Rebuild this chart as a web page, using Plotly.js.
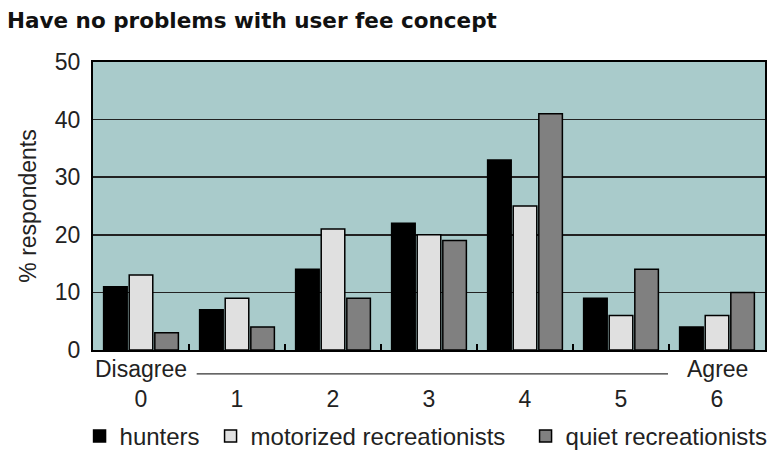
<!DOCTYPE html>
<html>
<head>
<meta charset="utf-8">
<script src="https://cdn.plot.ly/plotly-3.0.1.min.js"></script>
<style>html,body{margin:0;padding:0;background:#fff;}#chart{width:767px;height:451px;}</style>
</head>
<body>
<div id="chart"></div>
<script>
var categories = ["0", "1", "2", "3", "4", "5", "6"];
var hunters = [11, 7, 14, 22, 33, 9, 4];
var motorized = [13, 9, 21, 20, 25, 6, 6];
var quiet = [3, 4, 9, 19, 41, 14, 10];
var seriesNames = ["hunters", "motorized recreationists", "quiet recreationists"];
var yTicks = [0, 10, 20, 30, 40, 50];

var line = {color: "#000", width: 1.5};
var traces = [
  {type: "bar", name: seriesNames[0], x: categories, y: hunters, legendwidth: 86, marker: {color: "#000000", line: line}},
  {type: "bar", name: seriesNames[1], x: categories, y: motorized, legendwidth: 270, marker: {color: "#e0e0e0", line: line}},
  {type: "bar", name: seriesNames[2], x: categories, y: quiet, marker: {color: "#808080", line: line}}
];

var font = "'Liberation Sans', Arial, sans-serif";
var layout = {
  width: 767, height: 451,
  margin: {l: 93, r: 2, t: 62, b: 101, autoexpand: false},
  paper_bgcolor: "#ffffff",
  plot_bgcolor: "#a9cbcb",
  barmode: "group",
  bargap: 0.2,
  bargroupgap: 0.08,
  font: {family: font, size: 23, color: "#222"},
  title: {
    text: "<b>Have no problems with user fee concept</b>",
    font: {family: "'DejaVu Sans', sans-serif", size: 21.5, color: "#111"},
    xref: "container", yref: "container",
    x: 7/767, xanchor: "left",
    y: 1 - 20/451, yanchor: "middle"
  },
  xaxis: {
    type: "category",
    showgrid: false,
    showline: true, linecolor: "#000", linewidth: 2, mirror: true,
    ticks: "inside", tickson: "boundaries", ticklen: 6, tickcolor: "#000", tickwidth: 1.5,
    ticklabelstandoff: 27,
    tickfont: {family: font, size: 23, color: "#222"},
    zeroline: false,
    fixedrange: true
  },
  yaxis: {
    range: [0, 50],
    tickvals: yTicks,
    showgrid: true, gridcolor: "#222", gridwidth: 1.5,
    showline: true, linecolor: "#000", linewidth: 2, mirror: true,
    ticks: "", ticklabelstandoff: 6,
    tickfont: {family: font, size: 23, color: "#222"},
    zeroline: false,
    title: {text: "% respondents", font: {family: font, size: 23, color: "#222"}, standoff: 12}
  },
  legend: {
    orientation: "h",
    x: -0.02, xanchor: "left",
    y: -0.3785, yanchor: "bottom",
    font: {family: font, size: 24, color: "#222"},
    traceorder: "normal"
  },
  annotations: [
    {x: 0, y: -0.066, xref: "x", yref: "paper", text: "Disagree", showarrow: false, xanchor: "center", yanchor: "middle", font: {family: font, size: 23, color: "#222"}},
    {x: 6, y: -0.066, xref: "x", yref: "paper", text: "Agree", showarrow: false, xanchor: "center", yanchor: "middle", font: {family: font, size: 23, color: "#222"}}
  ],
  shapes: [
    {type: "line", xref: "x", yref: "paper", x0: 0.58, x1: 5.49, y0: -0.083, y1: -0.083, line: {color: "#333", width: 1.2}}
  ]
};

Plotly.newPlot("chart", traces, layout, {displayModeBar: false, staticPlot: true});
</script>
</body>
</html>
